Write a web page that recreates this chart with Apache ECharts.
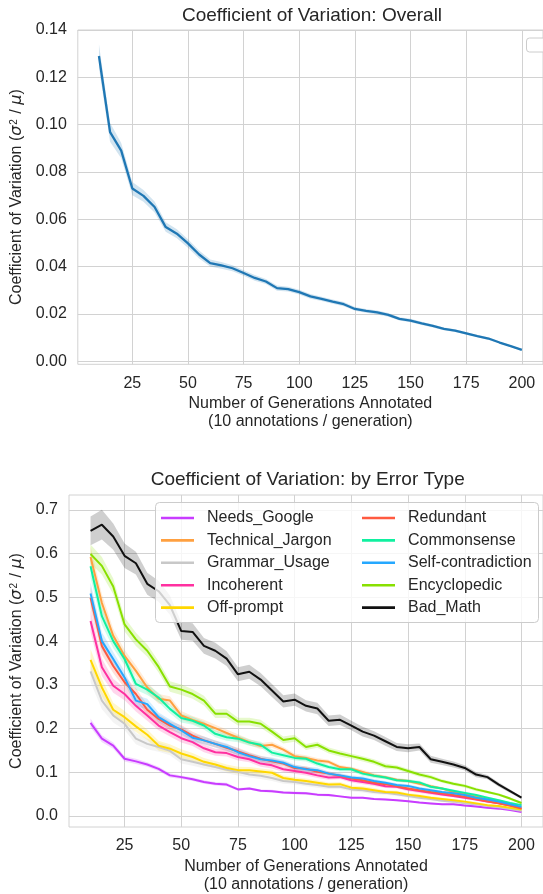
<!DOCTYPE html>
<html><head><meta charset="utf-8">
<script src="https://cdn.jsdelivr.net/npm/echarts@6/dist/echarts.min.js"></script>
<style>html,body{margin:0;padding:0;background:#fff}#c{width:543px;height:894px}</style>
</head><body><div id="c"></div><script>
// ---------- data ----------
const xs = [10,15,20,25,30,35,40,45,50,55,60,65,70,75,80,85,90,95,100,105,110,115,120,125,130,135,140,145,150,155,160,165,170,175,180,185,190,195,200];
const xTicks = [25,50,75,100,125,150,175,200];
const yTicksTop = [0,0.02,0.04,0.06,0.08,0.10,0.12,0.14];
const yTicksBottom = [0,0.1,0.2,0.3,0.4,0.5,0.6,0.7];

const overall = [0.1290,0.0968,0.0890,0.0730,0.0699,0.0652,0.0567,0.0539,0.0498,0.0451,0.0415,0.0405,0.0393,0.0373,0.0352,0.0337,0.0309,0.0305,0.0292,0.0274,0.0264,0.0252,0.0241,0.0221,0.0213,0.0206,0.0196,0.0179,0.0172,0.0160,0.0149,0.0137,0.0129,0.0118,0.0106,0.0096,0.0079,0.0064,0.0048];
const overallHalf = [0.0050,0.0040,0.0032,0.0028,0.0025,0.0023,0.0020,0.0019,0.0018,0.0017,0.0015,0.0014,0.0013,0.0012,0.0012,0.0011,0.0011,0.0010,0.0010,0.0010,0.0009,0.0009,0.0009,0.0008,0.0008,0.0008,0.0008,0.0007,0.0007,0.0007,0.0006,0.0006,0.0006,0.0005,0.0005,0.0005,0.0004,0.0004,0.0003];

const needsGoogle = [0.213,0.177,0.161,0.131,0.125,0.118,0.108,0.093,0.089,0.084,0.078,0.074,0.072,0.061,0.063,0.058,0.057,0.054,0.053,0.052,0.049,0.048,0.045,0.042,0.042,0.039,0.038,0.036,0.034,0.031,0.029,0.027,0.027,0.024,0.022,0.019,0.017,0.014,0.009];
const technicalJargon = [0.592,0.487,0.412,0.366,0.332,0.294,0.268,0.264,0.230,0.220,0.211,0.201,0.190,0.179,0.169,0.160,0.163,0.152,0.137,0.133,0.127,0.124,0.112,0.108,0.101,0.093,0.089,0.083,0.080,0.074,0.068,0.063,0.055,0.051,0.044,0.038,0.033,0.025,0.017];
const grammarUsage = [0.331,0.264,0.230,0.211,0.177,0.165,0.158,0.149,0.130,0.124,0.118,0.112,0.106,0.101,0.095,0.092,0.087,0.080,0.078,0.074,0.071,0.067,0.067,0.061,0.059,0.055,0.053,0.050,0.046,0.042,0.039,0.035,0.033,0.029,0.027,0.023,0.020,0.016,0.012];
const incoherent = [0.446,0.340,0.298,0.279,0.252,0.230,0.207,0.192,0.178,0.169,0.155,0.146,0.144,0.135,0.130,0.120,0.116,0.107,0.103,0.099,0.093,0.088,0.089,0.082,0.078,0.074,0.068,0.067,0.061,0.057,0.053,0.049,0.046,0.042,0.038,0.033,0.029,0.024,0.017];
const offPrompt = [0.357,0.294,0.243,0.226,0.205,0.186,0.161,0.154,0.143,0.135,0.124,0.118,0.110,0.105,0.105,0.102,0.099,0.087,0.083,0.080,0.076,0.072,0.073,0.065,0.063,0.059,0.055,0.054,0.049,0.046,0.042,0.039,0.036,0.033,0.029,0.025,0.023,0.019,0.015];
const redundant = [0.499,0.389,0.343,0.306,0.279,0.243,0.222,0.207,0.198,0.184,0.173,0.165,0.156,0.148,0.139,0.131,0.125,0.120,0.110,0.108,0.101,0.097,0.092,0.086,0.082,0.076,0.073,0.068,0.063,0.059,0.055,0.052,0.048,0.044,0.039,0.034,0.029,0.024,0.017];
const commonsense = [0.571,0.457,0.400,0.359,0.302,0.289,0.271,0.245,0.224,0.218,0.207,0.188,0.180,0.177,0.168,0.163,0.145,0.139,0.133,0.131,0.120,0.112,0.107,0.107,0.097,0.092,0.088,0.082,0.080,0.077,0.067,0.063,0.058,0.053,0.048,0.042,0.036,0.030,0.025];
const selfContradiction = [0.509,0.400,0.359,0.317,0.264,0.256,0.226,0.211,0.196,0.179,0.173,0.165,0.158,0.146,0.137,0.130,0.127,0.122,0.112,0.107,0.105,0.097,0.093,0.088,0.086,0.080,0.076,0.071,0.069,0.063,0.059,0.055,0.052,0.048,0.042,0.038,0.033,0.027,0.021];
const encyclopedic = [0.599,0.572,0.525,0.438,0.404,0.378,0.341,0.296,0.289,0.279,0.264,0.234,0.234,0.216,0.216,0.211,0.193,0.174,0.178,0.158,0.163,0.150,0.143,0.137,0.131,0.124,0.114,0.111,0.103,0.095,0.089,0.080,0.074,0.069,0.061,0.055,0.049,0.040,0.030];
const badMath = [0.652,0.666,0.639,0.595,0.578,0.531,0.514,0.482,0.423,0.421,0.389,0.378,0.360,0.324,0.330,0.312,0.287,0.262,0.266,0.252,0.246,0.218,0.220,0.207,0.193,0.184,0.171,0.158,0.155,0.158,0.130,0.124,0.118,0.110,0.095,0.089,0.072,0.057,0.042];

// estimated CI half-widths
const badMathHalf = [0.033,0.034,0.030,0.028,0.026,0.025,0.024,0.022,0.020,0.020,0.018,0.018,0.017,0.016,0.016,0.015,0.015,0.014,0.014,0.013,0.013,0.012,0.012,0.011,0.011,0.010,0.010,0.009,0.009,0.008,0.008,0.007,0.007,0.006,0.006,0.005,0.005,0.004,0.003];
const encyclopedicHalf = [0.022,0.020,0.018,0.016,0.015,0.014,0.013,0.012,0.012,0.011,0.011,0.010,0.010,0.009,0.009,0.009,0.008,0.008,0.008,0.007,0.007,0.007,0.007,0.006,0.006,0.006,0.006,0.005,0.005,0.005,0.005,0.004,0.004,0.004,0.004,0.003,0.003,0.003,0.003];
const typicalHalf = [0.025,0.020,0.016,0.014,0.013,0.012,0.011,0.010,0.010,0.009,0.009,0.008,0.008,0.008,0.007,0.007,0.007,0.006,0.006,0.006,0.006,0.005,0.005,0.005,0.005,0.005,0.004,0.004,0.004,0.004,0.004,0.003,0.003,0.003,0.003,0.003,0.002,0.002,0.002];
const googleHalf = [0.010,0.008,0.007,0.006,0.006,0.005,0.005,0.005,0.004,0.004,0.004,0.004,0.004,0.003,0.003,0.003,0.003,0.003,0.003,0.003,0.003,0.003,0.002,0.002,0.002,0.002,0.002,0.002,0.002,0.002,0.002,0.002,0.002,0.002,0.002,0.002,0.001,0.001,0.001];

const errorNames = ['Needs_Google','Technical_Jargon','Grammar_Usage','Incoherent','Off-prompt','Redundant','Commonsense','Self-contradiction','Encyclopedic','Bad_Math'];
const errorValues = [needsGoogle,technicalJargon,grammarUsage,incoherent,offPrompt,redundant,commonsense,selfContradiction,encyclopedic,badMath];
const errorHalf = [googleHalf,typicalHalf,typicalHalf,typicalHalf,typicalHalf,typicalHalf,typicalHalf,typicalHalf,encyclopedicHalf,badMathHalf];
const errorColors = ['#c83cff','#ffa040','#c8c8c8','#ff30a0','#ffd700','#ff5a40','#10f0a0','#25a8ff','#88e000','#111111'];

// ---------- chart ----------
const FONT = 'Liberation Sans, Arial, sans-serif';
const TXT = '#262626';
const GRIDC = '#d2d2d2';
const chart = echarts.init(document.getElementById('c'), null, {renderer: 'canvas'});

function hexToRgba(hex, a) {
  const n = parseInt(hex.slice(1), 16);
  return 'rgba(' + ((n >> 16) & 255) + ',' + ((n >> 8) & 255) + ',' + (n & 255) + ',' + a + ')';
}

function bandSeries(idx, vals, half, color, name) {
  const lo = vals.map((v, i) => v - half[i]);
  const hi = vals.map((v, i) => v + half[i]);
  return {
    type: 'custom', name: name, silent: true,
    xAxisIndex: idx, yAxisIndex: idx,
    data: xs.map((x, i) => [x, lo[i], hi[i]]),
    encode: {x: 0, y: [1, 2]},
    renderItem: function (params, api) {
      if (params.dataIndex !== 0) return null;
      const pts = [];
      for (let i = 0; i < xs.length; i++) pts.push(api.coord([xs[i], hi[i]]));
      for (let i = xs.length - 1; i >= 0; i--) pts.push(api.coord([xs[i], lo[i]]));
      return {type: 'polygon', shape: {points: pts}, style: {fill: color}};
    }
  };
}
function lineSeries(idx, vals, color, name, w) {
  return {
    type: 'line', name: name, xAxisIndex: idx, yAxisIndex: idx,
    data: xs.map((x, i) => [x, vals[i]]),
    showSymbol: false, symbol: 'none', animation: false,
    lineStyle: {color: color, width: w}, itemStyle: {color: color},
    emphasis: {disabled: true}
  };
}

function xAxisCfg(idx) {
  return {
    type: 'value', gridIndex: idx, min: 0.5, max: 209.5,
    axisLine: {show: false}, axisTick: {show: false, customValues: xTicks},
    axisLabel: {customValues: xTicks, color: TXT, fontSize: 16, fontFamily: FONT, margin: 11},
    splitLine: {show: true, lineStyle: {color: GRIDC, width: 1}},
    name: 'Number of Generations Annotated\n(10 annotations / generation)',
    nameLocation: 'middle', nameGap: 31,
    nameTextStyle: {color: TXT, fontSize: 16, fontFamily: FONT, lineHeight: 17.5}
  };
}
const yName = '{n|Coefficient of Variation (}{i|σ}{s|2}{n| / }{i|μ}{n|)}';
const yRich = {
  n: {fontSize: 16, fontFamily: FONT, color: TXT},
  i: {fontSize: 16, fontFamily: 'DejaVu Sans', fontStyle: 'italic', color: TXT},
  s: {fontSize: 10, fontFamily: FONT, color: TXT, verticalAlign: 'top', padding: [0, 1, 0, 1]}
};
function yAxisCfg(idx, min, max, ticks, dec, gap) {
  return {
    type: 'value', gridIndex: idx, min: min, max: max,
    axisLine: {show: false}, axisTick: {show: false, customValues: ticks},
    axisLabel: {customValues: ticks, color: TXT, fontSize: 16, fontFamily: FONT, margin: 11,
      formatter: v => v.toFixed(dec)},
    splitLine: {show: true, lineStyle: {color: GRIDC, width: 1}},
    name: yName, nameLocation: 'middle', nameGap: gap, nameRotate: 90,
    nameTextStyle: {rich: yRich, color: TXT}
  };
}

const series = [];
series.push(bandSeries(0, overall, overallHalf, hexToRgba('#1f77b4', 0.2), 'overall_ci'));
series.push(lineSeries(0, overall, '#1f77b4', 'Overall', 2.3));
for (let k = 0; k < errorNames.length; k++) {
  series.push(bandSeries(1, errorValues[k], errorHalf[k], hexToRgba(errorColors[k], 0.2), errorNames[k] + '_ci'));
  series.push(lineSeries(1, errorValues[k], errorColors[k], errorNames[k], 2));
}

const legendCommon = {
  orient: 'vertical', top: 509, icon: 'rect', itemWidth: 33, itemHeight: 2.6, itemGap: 4.4, padding: 0,
  textStyle: {color: TXT, fontSize: 16, fontFamily: FONT, lineHeight: 18, padding: [0, 0, 0, 8]},
  selectedMode: false, z: 6
};

const option = {
  animation: false,
  backgroundColor: '#ffffff',
  title: [
    {text: 'Coefficient of Variation: Overall', left: 312, top: 6, textAlign: 'center', padding: 0,
      textStyle: {color: TXT, fontSize: 19, fontWeight: 'normal', fontFamily: FONT, lineHeight: 20}},
    {text: 'Coefficient of Variation: by Error Type', left: 307.7, top: 470, textAlign: 'center', padding: 0,
      textStyle: {color: TXT, fontSize: 19, fontWeight: 'normal', fontFamily: FONT, lineHeight: 20}}
  ],
  grid: [
    {left: 77.8, top: 30, width: 468.5, height: 334.3, show: true, borderColor: GRIDC, borderWidth: 1, backgroundColor: 'transparent'},
    {left: 69, top: 495, width: 477.4, height: 334, show: true, borderColor: GRIDC, borderWidth: 1, backgroundColor: 'transparent'}
  ],
  xAxis: [xAxisCfg(0), xAxisCfg(1)],
  yAxis: [
    yAxisCfg(0, -0.0013, 0.14, yTicksTop, 2, 51),
    yAxisCfg(1, -0.025, 0.734, yTicksBottom, 1, 42)
  ],
  legend: [
    Object.assign({}, legendCommon, {left: 161, data: errorNames.slice(0, 5)}),
    Object.assign({}, legendCommon, {left: 362, data: errorNames.slice(5)})
  ],
  graphic: [
    {type: 'rect', left: 155, top: 502, z: 5, shape: {width: 383, height: 120, r: 4},
      style: {fill: 'rgba(255,255,255,0.8)', stroke: '#cccccc', lineWidth: 1}},
    {type: 'rect', left: 526, top: 37.5, z: 5, shape: {width: 22, height: 14, r: 3},
      style: {fill: 'rgba(255,255,255,0.8)', stroke: '#cccccc', lineWidth: 1}}
  ],
  series: series
};
chart.setOption(option);
</script></body></html>
